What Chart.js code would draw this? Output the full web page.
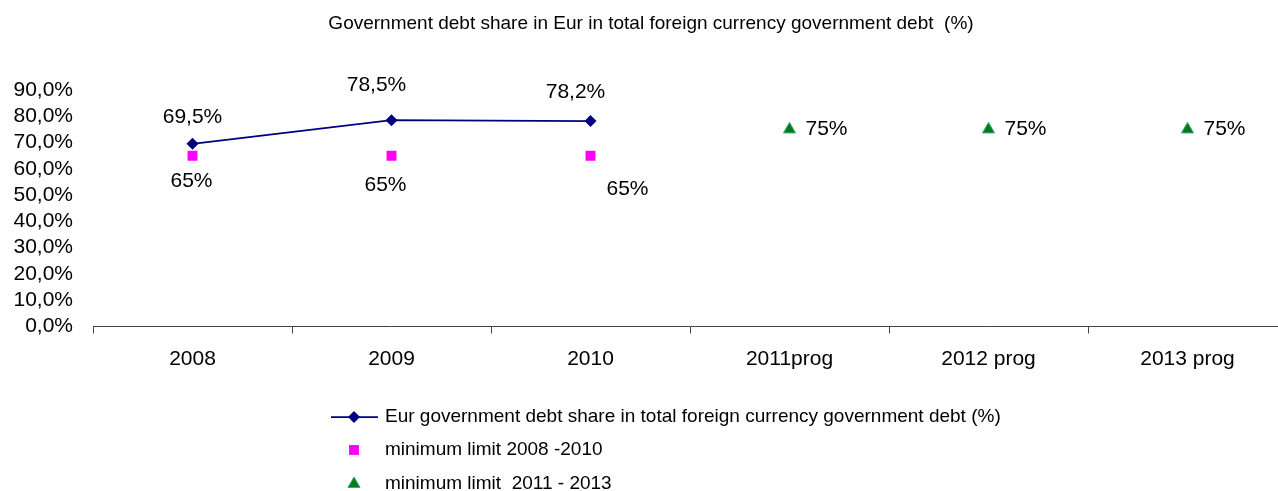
<!DOCTYPE html>
<html>
<head>
<meta charset="utf-8">
<script src="https://cdn.jsdelivr.net/npm/chart.js"></script>
<style>
  html, body { margin: 0; padding: 0; background: #fff; overflow: hidden; }
  #wrap { position: absolute; left: 0; top: 0; width: 1302px; height: 491px; }
</style>
</head>
<body>
<div id="wrap"><canvas id="debtChart"></canvas></div>
<script>
const FONT = 'Arial, "Liberation Sans", sans-serif';

const chartTitle = "Government debt share in Eur in total foreign currency government debt  (%)";
const years = ["2008", "2009", "2010", "2011prog", "2012 prog", "2013 prog"];
const eurShare = [69.5, 78.5, 78.2, null, null, null];
const minLimit0810 = [65, 65, 65, null, null, null];
const minLimit1113 = [null, null, null, 75, 75, 75];
const yTicks = [0, 10, 20, 30, 40, 50, 60, 70, 80, 90];

const pct1 = v => v.toFixed(1).replace(".", ",") + "%";
const pct0 = v => v + "%";

// title drawn by hand so it can sit off-centre of the plot
const topTitle = {
  id: "topTitle",
  afterDraw(chart) {
    const ctx = chart.ctx;
    ctx.save();
    ctx.font = "19px " + FONT;
    ctx.fillStyle = "#000";
    ctx.textAlign = "center";
    ctx.textBaseline = "middle";
    ctx.fillText(chartTitle, 651, 24);
    ctx.restore();
  }
};

// value labels next to the markers
const valueLabels = {
  id: "valueLabels",
  afterDatasetsDraw(chart) {
    const ctx = chart.ctx;
    ctx.save();
    ctx.font = "21px " + FONT;
    ctx.fillStyle = "#000";
    ctx.textBaseline = "middle";
    chart.data.datasets.forEach((ds, i) => {
      const meta = chart.getDatasetMeta(i);
      meta.data.forEach((pt, j) => {
        const v = ds.data[j];
        if (v == null) return;
        const off = ds.labelOffsets[j] || [0, 0];
        ctx.textAlign = ds.labelAlign || "center";
        ctx.fillText(ds.labelFormat(v), pt.x + off[0], pt.y + off[1]);
      });
    });
    ctx.restore();
  }
};

function marker(ctx, style, x, y, r, fill, stroke) {
  ctx.beginPath();
  if (style === "rectRot") {
    ctx.moveTo(x, y - r); ctx.lineTo(x + r, y); ctx.lineTo(x, y + r); ctx.lineTo(x - r, y);
  } else if (style === "rect") {
    const s = Math.SQRT1_2 * r;
    ctx.rect(x - s, y - s, 2 * s, 2 * s);
  } else {
    const w = r * Math.sqrt(3) / 2;
    ctx.moveTo(x, y - r); ctx.lineTo(x + w, y + r / 2); ctx.lineTo(x - w, y + r / 2);
  }
  ctx.closePath();
  ctx.fillStyle = fill;
  ctx.fill();
  if (stroke) { ctx.strokeStyle = stroke; ctx.lineWidth = 1; ctx.stroke(); }
}

// stacked legend under the axis
const bottomLegend = {
  id: "bottomLegend",
  afterDraw(chart) {
    const ctx = chart.ctx;
    const mx = 354, tx = 385;
    const rows = [417, 450, 484];
    ctx.save();
    ctx.font = "19px " + FONT;
    ctx.textAlign = "left";
    ctx.textBaseline = "middle";
    chart.data.datasets.forEach((ds, i) => {
      const y = rows[i];
      if (ds.showLine !== false) {
        ctx.beginPath();
        ctx.moveTo(331, y); ctx.lineTo(378, y);
        ctx.strokeStyle = ds.borderColor;
        ctx.lineWidth = ds.borderWidth;
        ctx.stroke();
      }
      marker(ctx, ds.pointStyle, mx, y, ds.pointRadius, ds.pointBackgroundColor,
        ds.pointBorderWidth ? ds.pointBorderColor : null);
      ctx.fillStyle = "#000";
      ctx.fillText(ds.label, tx, y);
    });
    ctx.restore();
  }
};

new Chart(document.getElementById("debtChart"), {
  type: "line",
  data: {
    labels: years,
    datasets: [
      {
        label: "Eur government debt share in total foreign currency government debt (%)",
        data: eurShare,
        borderColor: "#000080",
        borderWidth: 1.75,
        pointStyle: "rectRot",
        pointRadius: 6,
        pointBackgroundColor: "#000080",
        pointBorderColor: "#000080",
        pointBorderWidth: 0,
        labelFormat: pct1,
        labelOffsets: [[0, -27], [-15, -35], [-15, -29]]
      },
      {
        label: "minimum limit 2008 -2010",
        data: minLimit0810,
        showLine: false,
        pointStyle: "rect",
        pointRadius: 7,
        pointBackgroundColor: "#FF00FF",
        pointBorderColor: "#FF00FF",
        pointBorderWidth: 0,
        labelFormat: pct0,
        labelOffsets: [[-1, 26], [-6, 30], [37, 34]]
      },
      {
        label: "minimum limit  2011 - 2013",
        data: minLimit1113,
        showLine: false,
        pointStyle: "triangle",
        pointRadius: 7,
        pointBackgroundColor: "#007A20",
        pointBorderColor: "#3AA86A",
        pointBorderWidth: 1,
        labelFormat: pct0,
        labelAlign: "left",
        labelOffsets: [null, null, null, [16, 0], [16, 0], [16, 0]]
      }
    ]
  },
  options: {
    responsive: true,
    maintainAspectRatio: false,
    animation: false,
    layout: { padding: { left: 0, right: 15, top: 90, bottom: 0 } },
    plugins: {
      legend: { display: false },
      tooltip: { enabled: false },
      title: { display: false }
    },
    scales: {
      x: {
        offset: true,
        grid: { display: true, drawOnChartArea: false, drawTicks: true, tickLength: 7, color: "#444", offset: true },
        border: { display: true, color: "#444", width: 1 },
        ticks: { color: "#000", font: { family: FONT, size: 21 }, padding: 13, maxRotation: 0, autoSkip: false },
        afterFit: s => { s.height = 164.5; }
      },
      y: {
        min: 0,
        max: 90,
        grid: { display: false },
        border: { display: false },
        afterBuildTicks: s => { s.ticks = yTicks.map(v => ({ value: v })); },
        ticks: { color: "#000", font: { family: FONT, size: 21 }, padding: 12, autoSkip: false, callback: v => pct1(v) },
        afterFit: s => { s.width = 93; }
      }
    }
  },
  plugins: [valueLabels, bottomLegend, topTitle]
});
</script>
</body>
</html>
